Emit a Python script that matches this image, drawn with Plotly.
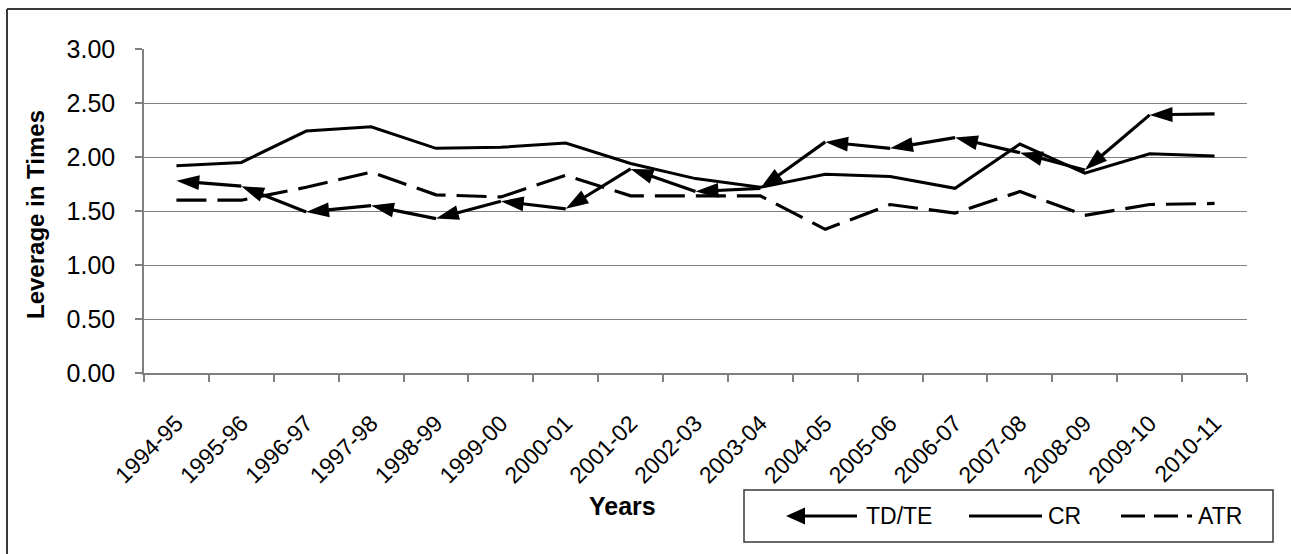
import plotly.graph_objects as go

# Financial years on the category axis
years = ["1994-95", "1995-96", "1996-97", "1997-98", "1998-99", "1999-00",
         "2000-01", "2001-02", "2002-03", "2003-04", "2004-05", "2005-06",
         "2006-07", "2007-08", "2008-09", "2009-10", "2010-11"]

# Leverage ratios (times)
td_te = [1.78, 1.73, 1.49, 1.55, 1.43, 1.59, 1.52, 1.89, 1.68, 1.71,
         2.14, 2.08, 2.18, 2.04, 1.88, 2.39, 2.40]
cr = [1.92, 1.95, 2.24, 2.28, 2.08, 2.09, 2.13, 1.94, 1.80, 1.72,
      1.84, 1.82, 1.71, 2.12, 1.85, 2.03, 2.01]
atr = [1.60, 1.60, 1.72, 1.86, 1.65, 1.63, 1.83, 1.64, 1.64, 1.64,
       1.33, 1.56, 1.48, 1.68, 1.46, 1.56, 1.57]

y_ticks = [0, 0.5, 1.0, 1.5, 2.0, 2.5, 3.0]

W, H = 1291, 554
ML, MR, MT, MB = 144, 44, 49, 181
PW, PH = W - ML - MR, H - MT - MB
FONT = "Liberation Sans, Arial, sans-serif"


def px(x):
    return (x - ML) / PW


def py(y):
    return (H - MB - y) / PH


fig = go.Figure()

fig.add_trace(go.Scatter(
    x=years, y=cr, mode="lines", name="CR",
    line=dict(color="#000", width=3), showlegend=False))

fig.add_trace(go.Scatter(
    x=years, y=atr, mode="lines", name="ATR",
    line=dict(color="#000", width=3.2, dash="30px,11px"), showlegend=False))

# TD/TE drawn newest-to-oldest so each arrowhead points back to the earlier year
fig.add_trace(go.Scatter(
    x=years[::-1], y=td_te[::-1], mode="lines+markers", name="TD/TE",
    line=dict(color="#000", width=3.2),
    marker=dict(symbol="arrow", angleref="previous", size=24,
                color="#000", line=dict(width=0)),
    showlegend=False))

shapes = []
annotations = []

# Outer frame
shapes.append(dict(type="line", xref="paper", yref="paper",
                   x0=px(7), x1=px(W + 2), y0=py(9), y1=py(9),
                   line=dict(color="#3a3a3a", width=2)))
shapes.append(dict(type="line", xref="paper", yref="paper",
                   x0=px(7), x1=px(7), y0=py(9), y1=py(H + 2),
                   line=dict(color="#3a3a3a", width=2)))

# Legend box
shapes.append(dict(type="rect", xref="paper", yref="paper",
                   x0=px(744), x1=px(1273), y0=py(542), y1=py(490),
                   line=dict(color="#3a3a3a", width=1.5), fillcolor="white"))
ly = 516
# TD/TE sample: line with arrowhead
shapes.append(dict(type="line", xref="paper", yref="paper",
                   x0=px(800), x1=px(857), y0=py(ly), y1=py(ly),
                   line=dict(color="#000", width=3)))
tip, alen, ahw = 786, 19, 8.5
shapes.append(dict(type="path", xref="paper", yref="paper",
                   path=f"M{px(tip)},{py(ly)} L{px(tip + alen)},{py(ly - ahw)} "
                        f"L{px(tip + alen)},{py(ly + ahw)} Z",
                   fillcolor="#000", line=dict(width=0)))
# CR sample
shapes.append(dict(type="line", xref="paper", yref="paper",
                   x0=px(969), x1=px(1042), y0=py(ly), y1=py(ly),
                   line=dict(color="#000", width=3)))
# ATR sample
shapes.append(dict(type="line", xref="paper", yref="paper",
                   x0=px(1121), x1=px(1192), y0=py(ly), y1=py(ly),
                   line=dict(color="#000", width=3, dash="24px,9px")))

for label, x0 in [("TD/TE", 864), ("CR", 1046), ("ATR", 1196)]:
    annotations.append(dict(text=label, xref="paper", yref="paper",
                            x=px(x0), y=py(ly), xanchor="left", yanchor="middle",
                            showarrow=False,
                            font=dict(family=FONT, size=23, color="#000")))

# Axis titles
annotations.append(dict(text="<b>Leverage in Times</b>", xref="paper", yref="paper",
                        x=px(35), y=py(215), textangle=-90,
                        xanchor="center", yanchor="middle", showarrow=False,
                        font=dict(family=FONT, size=24, color="#000")))
annotations.append(dict(text="<b>Years</b>", xref="paper", yref="paper",
                        x=px(622), y=py(506), xanchor="center", yanchor="middle",
                        showarrow=False,
                        font=dict(family=FONT, size=25, color="#000")))

fig.update_layout(
    width=W, height=H,
    margin=dict(l=ML, r=MR, t=MT, b=MB, pad=0),
    paper_bgcolor="white", plot_bgcolor="white",
    font=dict(family=FONT, size=23, color="#000"),
    shapes=shapes, annotations=annotations,
    showlegend=False,
    xaxis=dict(type="category", range=[-0.5, len(years) - 0.5],
               tickson="boundaries", ticks="outside", ticklen=7,
               tickcolor="#808080", tickwidth=1.5,
               showline=True, linecolor="#808080", linewidth=1.5,
               showgrid=False, tickangle=-45, ticklabelstandoff=26,
               tickfont=dict(family=FONT, size=23, color="#000")),
    yaxis=dict(range=[0, 3], tickvals=y_ticks, tickformat=".2f",
               ticks="outside", ticklen=7, tickcolor="#808080", tickwidth=1.5,
               showline=True, linecolor="#808080", linewidth=1.5,
               showgrid=True, gridcolor="#808080", gridwidth=1,
               zeroline=False, ticklabelstandoff=15,
               tickfont=dict(family=FONT, size=25, color="#000")),
)

fig.write_html("out.html")
